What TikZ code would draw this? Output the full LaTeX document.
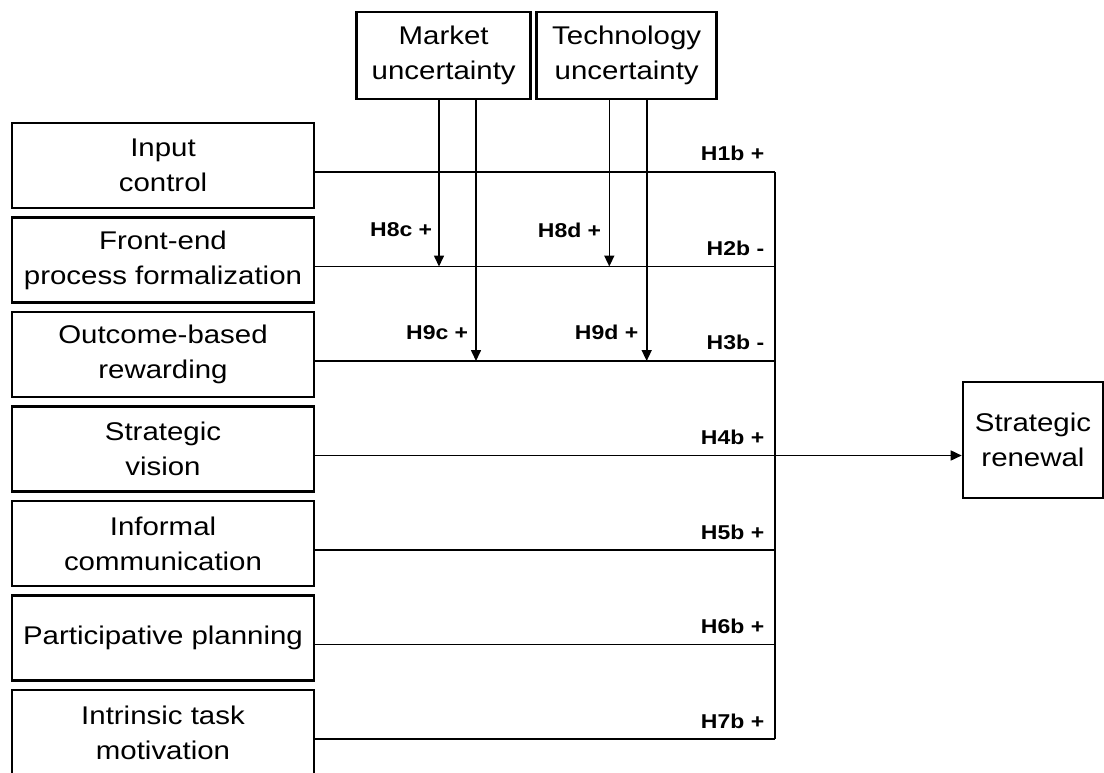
\documentclass[tikz,border=0pt]{standalone}
\usepackage{fontspec}
\setmainfont{Liberation Sans}[FakeStretch=1.15]
\usetikzlibrary{arrows.meta}

\begin{document}
\begin{tikzpicture}[x=0.5pt, y=-0.5pt, line width=0.8pt,
    box/.style={draw, line width=1.3pt, align=center, inner sep=0pt,
        font=\fontsize{12.8}{17.5}\selectfont},
    ctrlbox/.style={box, minimum width=151pt, minimum height=42.5pt},
    hyp/.style={font=\bfseries\fontsize{10}{12}\selectfont, inner sep=0pt},
    link/.style={-{Triangle[length=5.5pt, width=5pt]}}]
  \useasboundingbox (0,0) rectangle (1104,772);

  % Moderators
  \node[box, minimum width=87pt, minimum height=43.5pt] (market) at (443.7,55.3) {Market\\uncertainty};
  \node[box, minimum width=90pt, minimum height=43.5pt] (techno) at (626.7,55.3) {Technology\\uncertainty};

  % Control mechanisms
  \node[ctrlbox] (input) at (163,165.5) {Input\\control};
  \node[ctrlbox] (frontend) at (163,260) {Front-end\\process formalization};
  \node[ctrlbox] (outcome) at (163,354.5) {Outcome-based\\rewarding};
  \node[ctrlbox] (vision) at (163,449) {Strategic\\vision};
  \node[ctrlbox] (informal) at (163,543.5) {Informal\\communication};
  \node[ctrlbox] (planning) at (163,638) {Participative planning};
  \node[ctrlbox] (intrinsic) at (163,732.5) {Intrinsic task\\motivation};

  % Outcome
  \node[box, minimum width=70pt, minimum height=58pt] (renewal) at (1033,440) {Strategic\\renewal};

  % Junctions on the collecting line
  \coordinate (j1) at (775,172);
  \coordinate (j2) at (775,266.5);
  \coordinate (j3) at (775,361);
  \coordinate (j4) at (775,455.5);
  \coordinate (j5) at (775,550);
  \coordinate (j6) at (775,644.5);
  \coordinate (j7) at (775,739);

  % Direct effects
  \draw (input.east |- j1) -- (j1);
  \draw (frontend.east |- j2) -- (j2);
  \draw (outcome.east |- j3) -- (j3);
  \draw (vision.east |- j4) -- (j4);
  \draw (informal.east |- j5) -- (j5);
  \draw (planning.east |- j6) -- (j6);
  \draw (intrinsic.east |- j7) -- (j7);
  \draw (j1) -- (j7);
  \draw[link] (j4) -- (j4 -| renewal.west);

  % Hypothesis labels
  \node[hyp, anchor=east] (h1b) at (765,153) {H1b +};
  \node[hyp, anchor=east] (h2b) at (765,248) {H2b -};
  \node[hyp, anchor=east] (h3b) at (765,342) {H3b -};
  \node[hyp, anchor=east] (h4b) at (765,437) {H4b +};
  \node[hyp, anchor=east] (h5b) at (765,532) {H5b +};
  \node[hyp, anchor=east] (h6b) at (765,626) {H6b +};
  \node[hyp, anchor=east] (h7b) at (765,721) {H7b +};

  % Moderating effects
  \coordinate (m8c) at (439,266.5);
  \coordinate (m9c) at (476,361);
  \coordinate (m8d) at (609.3,266.5);
  \coordinate (m9d) at (646.7,361);
  \draw[link] (market.south -| m8c) -- (m8c);
  \draw[link] (market.south -| m9c) -- (m9c);
  \draw[link] (techno.south -| m8d) -- (m8d);
  \draw[link] (techno.south -| m9d) -- (m9d);

  \node[hyp, anchor=east] (h8c) at (433,230) {H8c +};
  \node[hyp, anchor=east] (h9c) at (469,332.7) {H9c +};
  \node[hyp, anchor=east] (h8d) at (602,230) {H8d +};
  \node[hyp, anchor=east] (h9d) at (639,332.7) {H9d +};
\end{tikzpicture}
\end{document}
